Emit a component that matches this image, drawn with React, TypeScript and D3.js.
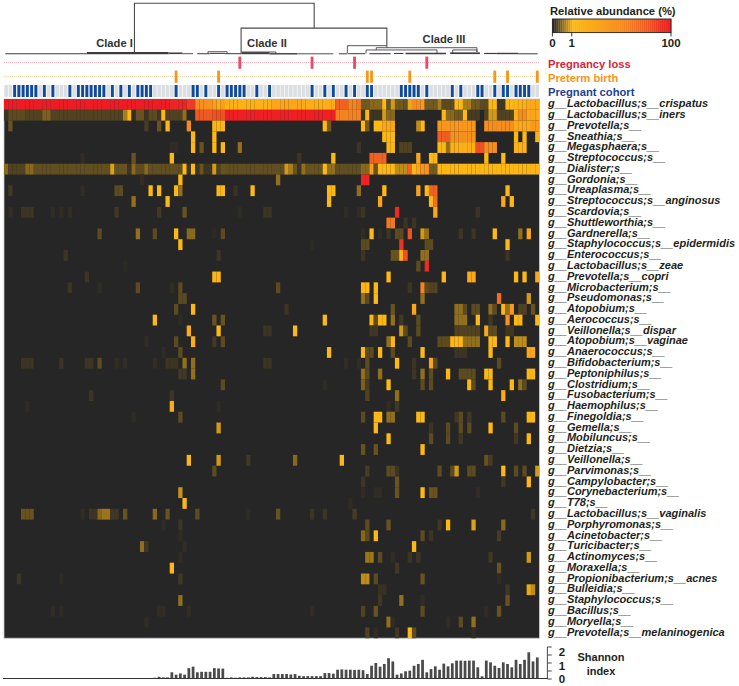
import React from "react";
import * as d3 from "d3";

type Run = number[]; // [col, value] or [firstCol, lastCol, value]

const taxa = [
  ["g__Lactobacillus;s__crispatus"], ["g__Lactobacillus;s__iners"], ["g__Prevotella;s__"], ["g__Sneathia;s__"],
  ["g__Megasphaera;s__"], ["g__Streptococcus;s__"], ["g__Dialister;s__"], ["g__Gordonia;s__"], ["g__Ureaplasma;s__"],
  ["g__Streptococcus;s__anginosus"], ["g__Scardovia;s__"], ["g__Shuttleworthia;s__"], ["g__Gardnerella;s__"],
  ["g__Staphylococcus;s__epidermidis"], ["g__Enterococcus;s__"], ["g__Lactobacillus;s__zeae"], ["g__Prevotella;s__copri"],
  ["g__Microbacterium;s__"], ["g__Pseudomonas;s__"], ["g__Atopobium;s__"], ["g__Aerococcus;s__"], ["g__Veillonella;s__dispar"],
  ["g__Atopobium;s__vaginae"], ["g__Anaerococcus;s__"], ["g__Bifidobacterium;s__"], ["g__Peptoniphilus;s__"], ["g__Clostridium;s__"],
  ["g__Fusobacterium;s__"], ["g__Haemophilus;s__"], ["g__Finegoldia;s__"], ["g__Gemella;s__"], ["g__Mobiluncus;s__"], ["g__Dietzia;s__"],
  ["g__Veillonella;s__"], ["g__Parvimonas;s__"], ["g__Campylobacter;s__"], ["g__Corynebacterium;s__"], ["g__T78;s__"],
  ["g__Lactobacillus;s__vaginalis"], ["g__Porphyromonas;s__"], ["g__Acinetobacter;s__"], ["g__Turicibacter;s__"], ["g__Actinomyces;s__"],
  ["g__Moraxella;s__"], ["g__Propionibacterium;s__acnes"], ["g__Bulleidia;s__"], ["g__Staphylococcus;s__"], ["g__Bacillus;s__"],
  ["g__Moryella;s__"], ["g__Prevotella;s__melaninogenica"],
].map((d) => d[0]);

const colCount = 126;

const crispatus: Run[] = [[0,38,100],[39,42,85],[43,44,50],[45,48,8],[49,49,4],[50,50,2],[51,51,4],[52,62,1.5],[63,69,3],[70,77,1.8],[78,80,25],[81,82,12],[83,83,15],[84,85,.35],[86,88,.45],[89,1],[90,.3],[91,.8],[92,93,.35],[94,.3],[95,.9],[96,97,10],[98,5],[99,101,.35],[102,.6],[103,105,.25],[106,107,1],[108,109,.6],[110,111,.35],[112,113,.25],[114,115,1],[116,117,.12],[118,119,1],[120,122,1.5],[123,125,2.5]];
const iners: Run[] = [[0,.1],[1,4,.25],[5,8,.2],[9,10,.4],[11,27,.2],[28,.6],[29,1],[30,.05],[31,32,.3],[33,.1],[34,35,.25],[36,.12],[37,1],[38,41,.2],[42,.5],[43,44,.03],[45,48,30],[49,51,35],[52,77,90],[78,83,12],[84,88,.1],[85,1],[89,.8],[90,91,.45],[103,1],[104,105,.45],[106,107,.35],[108,1],[109,111,.15],[113,.2],[114,115,.8],[116,119,.2],[120,1.5],[121,122,10],[123,125,3]];
const prevotella: Run[] = [[1,.3],[33,.15],[36,.3],[38,1],[43,10],[49,51,1.2],[75,1],[76,.35],[84,1],[85,.35],[87,88,1],[89,91,3],[97,.7],[98,1],[102,110,6],[113,119,9],[120,123,2.5],[124,125,5]];
const sneathia: Run[] = [[44,1],[49,1],[89,91,1],[102,104,28],[105,110,8],[120,1],[122,1],[125,1.5]];
const megasphaera: Run[] = [[39,40,.05],[44,1],[46,.3],[49,1],[51,1],[55,.5],[83,.1],[90,91,1],[93,95,.2],[102,103,1],[104,.5],[105,110,1.6],[111,112,35],[113,115,9],[120,122,1.5]];
const streptococcus: Run[] = [[18,.05],[30,.3],[39,1],[69,.1],[77,1],[86,89,25],[97,3],[100,101,1],[113,1],[117,1]];
const dialister: Run[] = [[0,.45],[1,4,.2],[5,6,.45],[7,24,.28],[25,.85],[26,28,.3],[29,.1],[30,.45],[31,32,.25],[33,.45],[34,41,.28],[42,1],[43,.1],[44,1],[45,.1],[46,.3],[47,48,.1],[49,.8],[50,.2],[51,.3],[52,65,.28],[66,.8],[67,.6],[68,.3],[69,.1],[70,.5],[71,74,.3],[75,1],[76,77,.5],[78,83,.28],[84,85,.45],[86,4],[87,.3],[88,91,1],[92,94,.7],[95,25],[96,1],[97,3],[98,99,7],[100,101,.35],[102,125,1.1]];
const gordonia: Run[] = [[32,.05],[41,1],[64,.5],[84,85,80]];
const ureaplasma: Run[] = [[1,.12],[18,.05],[26,27,.25],[34,1],[36,1],[40,1],[41,.5],[50,51,1],[54,.08],[58,1],[76,77,1],[83,.5],[89,1],[97,3],[99,1],[100,101,25],[118,1]];
const anginosus: Run[] = [[30,.5],[38,1],[76,1],[88,3],[100,1],[101,20],[117,3],[119,1]];
const scardovia: Run[] = [[1,.05],[4,6,.1],[11,.04],[13,.05],[15,.05],[26,.12],[36,.12],[42,.3],[55,.04],[61,62,.1],[80,.04],[83,.04],[84,.1],[92,70],[101,3],[111,.1]];
const shuttleworthia: Run[] = [[90,91,15],[94,.1],[96,.1]];
const gardnerella: Run[] = [[22,.25],[31,.5],[35,.25],[40,1],[43,44,.45],[49,.03],[51,.25],[84,.05],[86,1],[88,.05],[90,.1],[92,93,.25],[95,35],[98,.8],[99,.5],[107,.1],[110,.1],[115,1],[121,.5],[123,3]];
const epidermidis: Run[] = [[41,1],[72,.03],[84,85,.25],[93,60],[99,100,.25],[118,1]];
const enterococcus: Run[] = [[14,.1],[50,.1],[84,.1],[91,92,.3],[93,1.5],[94,35],[98,99,.5],[118,.1]];
const zeae: Run[] = [[28,.03],[97,.25],[99,70]];
const copri: Run[] = [[19,.1],[49,50,1.3],[90,1],[103,1],[109,110,2.5],[120,1],[122,1],[125,3]];
const microbacterium: Run[] = [[15,.1],[22,.04],[31,.25],[39,.05],[41,.25],[64,.25],[84,85,1.2],[87,1],[95,.1],[98,12],[99,.25],[100,101,.2]];
const pseudomonas: Run[] = [[41,42,.25],[84,.5],[85,.25],[87,1],[98,.5],[116,20],[123,.8]];
const atopobium: Run[] = [[40,.25],[44,1],[66,.1],[91,.3],[96,3],[106,107,.5],[108,.25],[110,111,.25],[114,.5],[115,.25],[117,1],[118,.5],[119,5],[121,122,.2],[124,.3]];
const aerococcus: Run[] = [[35,1],[41,.04],[49,.3],[51,.3],[75,1],[86,1],[87,.25],[88,89,1.1],[91,.5],[93,.12],[97,.25],[106,108,.5],[111,1],[114,.12],[118,8],[120,121,1.1],[125,1]];
const dispar: Run[] = [[43,2],[50,1],[61,62,.1],[68,1],[86,87,.12],[93,.8],[94,.25],[97,.25],[106,111,.2],[113,3],[114,115,.25],[118,119,.12]];
const vaginae: Run[] = [[33,.04],[40,.25],[44,2],[49,.12],[51,.25],[90,.5],[91,1],[95,.25],[102,104,.25],[105,107,1.1],[108,111,.5],[114,115,1],[118,1],[120,122,.7]];
const anaerococcus: Run[] = [[37,.04],[41,.25],[76,1],[84,1],[85,86,.25],[88,1],[91,.25],[98,1],[106,108,.1],[114,1],[123,124,3]];
const bifidobacterium: Run[] = [[4,6,.1],[13,.1],[19,20,.1],[22,.25],[26,.05],[28,.05],[35,.05],[38,40,.1],[42,.5],[44,.5],[61,62,.1],[80,.05],[83,.05],[85,.25],[92,1],[96,.1],[100,3],[101,.25],[116,.25]];
const peptoniphilus: Run[] = [[41,42,.12],[44,.5],[84,.5],[85,.25],[88,.5],[96,.1],[98,.5],[100,.25],[104,1],[107,110,.25],[113,114,1.1],[123,124,1.1]];
const clostridium: Run[] = [[51,.25],[75,.04],[84,.4],[85,.15],[90,1],[98,.25],[100,.25],[109,1],[110,.25],[114,1],[119,1],[121,.5],[122,.25]];
const fusobacterium: Run[] = [[20,.1],[39,.1],[85,.2],[92,.5],[117,2]];
const haemophilus: Run[] = [[5,.04],[39,2],[50,.04],[90,.05],[92,.12]];
const finegoldia: Run[] = [[30,.04],[41,.25],[84,.25],[87,88,1],[90,91,.5],[97,98,1],[106,.12],[107,.25],[109,.12],[117,.25],[123,124,1.1]];
const gemella: Run[] = [[50,.8],[87,1],[100,.1],[104,.25],[107,.25],[109,.25],[114,1],[120,.25]];
const mobiluncus: Run[] = [[90,1],[100,.25],[104,.25],[107,.12],[120,.12],[123,1]];
const dietzia: Run[] = [[84,.3],[87,.3],[98,1]];
const veillonella: Run[] = [[43,1],[50,.8],[57,.12],[68,.45],[79,1],[113,.3],[114,.15]];
const parvimonas: Run[] = [[49,.25],[85,.15],[90,91,.25],[92,.1],[102,.25],[105,.25],[106,.8],[109,110,.25],[117,1],[120,.25],[122,.25],[125,.8]];
const campylobacter: Run[] = [[84,.1],[92,.3],[117,.12],[123,1]];
const corynebacterium: Run[] = [[41,.75],[84,.05],[87,88,.05],[92,.3],[98,1],[100,101,.3],[111,.05]];
const t78: Run[] = [[42,1],[81,.04]];
const vaginalis: Run[] = [[4,6,.3],[18,.05],[20,21,.1],[22,.45],[23,24,.55],[25,26,.12],[28,.3],[35,.45],[38,.3],[45,.25],[57,.04],[64,.3],[72,.1],[75,.1],[82,.15],[124,.12]];
const porphyromonas: Run[] = [[37,.04],[41,.1],[85,.25],[90,.3],[102,.12],[104,1],[110,.85],[117,.45]];
const acinetobacter: Run[] = [[41,.04],[84,.45],[85,.25],[87,1],[98,.25],[100,.1],[116,.15]];
const turicibacter: Run[] = [[32,.5],[33,.12],[42,.05],[96,1]];
const actinomyces: Run[] = [[41,.05],[85,86,.55],[88,.25],[91,.05],[95,.1],[97,.1],[114,.12],[123,.8]];
const moraxella: Run[] = [[39,1],[92,.12],[116,.3]];
const acnes: Run[] = [[3,.1],[13,.04],[41,.12],[84,85,.7],[87,.25],[98,.3],[116,.05]];
const bulleidia: Run[] = [[88,89,.08],[118,.12],[123,.9],[124,.7]];
const staphylococcus: Run[] = [[41,.5],[88,.12],[93,.5],[98,.05],[118,.3]];
const bacillus: Run[] = [[11,.04],[13,.04],[36,37,.05],[43,.05],[72,.05],[84,.2],[87,.3],[98,.25],[113,.05],[116,.3]];
const moryella: Run[] = [[33,.04],[90,.5],[91,.05],[104,.05],[107,.25],[110,.5]];
const melaninogenica: Run[] = [[85,.2],[87,.05],[92,.12],[95,1],[96,.25],[110,.05]];

const abundanceRows = [crispatus, iners, prevotella, sneathia, megasphaera, streptococcus, dialister, gordonia, ureaplasma, anginosus, scardovia, shuttleworthia, gardnerella, epidermidis, enterococcus, zeae, copri, microbacterium, pseudomonas, atopobium, aerococcus, dispar, vaginae, anaerococcus, bifidobacterium, peptoniphilus, clostridium, fusobacterium, haemophilus, finegoldia, gemella, mobiluncus, dietzia, veillonella, parvimonas, campylobacter, corynebacterium, t78, vaginalis, porphyromonas, acinetobacter, turicibacter, actinomyces, moraxella, acnes, bulleidia, staphylococcus, bacillus, moryella, melaninogenica];

const pregnantCohort = [2,3,4,5,6,7,9,11,15,17,18,19,20,21,22,23,25,27,29,31,32,33,34,40,44,45,47,50,52,53,54,55,56,59,62,72,75,77,80,82,85,86,93,94,95,96,97,99,105,107,111,112,115,117,118,120,121,122,123];
const pretermBirth = [40,50,85,86,95,115,118,125];
const pregnancyLoss = [55,72,82,99];

const shannonIndex = [0,0,0,0,0,0,0,0,0,0,0,0,0,0,0,0,0,0,0,0,0,0,.03,.03,0,.05,.05,.05,.05,.01,.06,.06,.06,.02,.06,.08,.14,.1,.1,.42,.27,.35,.27,.68,.77,.42,.45,.45,.45,.68,.66,.65,.08,.1,.08,.1,.1,.1,.14,.12,.12,.12,.1,.31,.31,.31,.31,.28,.31,.2,.18,.18,.18,.18,.18,.37,.37,.33,.58,.6,.58,.58,.57,.58,.55,.31,.83,1,.77,.94,1.3,1.1,.27,.35,.48,.52,.83,.94,1.2,.42,.62,.79,.58,.96,.79,.98,1.15,1.15,1.14,1.15,1.15,.73,.17,1.15,1.04,.83,.69,1.04,.94,.73,1.2,.94,1.2,1.67,1.1,1.35];
const shannonTicks = [0,.5,1,1.5,2];
const shannonLabels = [0,1,2];

// [left col, right col, height, left foot height, right foot height]
const dendroLinks = [
  [30.7,73,100,4,51],
  [55.8,90.1,51,4,16.4],
  [80.8,90.1,16.4,1,12.4],
  [87.6,111.3,12.4,8,4],
  [85.2,101.9,8,1,1],
  [105.6,111.3,8,2,4],
  [48,52.5,4.5,1,1],
  [55.8,64,4,1,1],
];
// [first col, last col, height, weight]
const dendroBase = [
  [.3,19.5,.4,1.1],[19.5,38.7,1.6,2.2],[38.7,42,1.4,1.6],[42,44.5,.6,.9],[45.5,48.4,.5,1],[48.4,52,1.2,1],[52,56,.6,1],[56,62.5,1.6,2],[62.5,69,.4,1.4],[69,77.5,.4,.9],[78.8,80.8,.4,1],
  [81,85,.6,1],[86,91,.6,1.1],[91.8,94,1,1],[94.5,104,1,1.5],[105,112,1.5,1.7],[113,116,1,1.2],[116,121,1,1.4],[121,125.6,.4,1],
];
const cladeLabels = [["Clade I", 114.5, 43], ["Clade II", 267, 43], ["Clade III", 444, 38.5]];
const legendTicks = [0, 1, 100];
const sideLabels = [["Pregnancy loss", "#d9243c", 63.5], ["Preterm birth", "#f7941d", 77.5], ["Pregnant cohort", "#1c3f94", 91.5]];

const margin = { left: 4, right: 539.4, top: 99, bottom: 638.2 };

const xCol = d3.scaleLinear().domain([0, colCount]).range([margin.left, margin.right]);
const cw = xCol(1) - xCol(0);
const yRow = d3.scaleLinear().domain([0, taxa.length]).range([margin.top, margin.bottom]);
const rh = yRow(1) - yRow(0);
const yDendro = d3.scaleLinear().domain([0, 100]).range([54, 3.3]);
const yShannon = d3.scaleLinear().domain([0, 2]).range([679, 647]);
const yShannonLabel = d3.scaleLinear().domain([0, 2]).range([679, 652]);

// legend position 0..1 for an abundance
const legendPos = (v: number) => (v <= 1 ? 0.163 * v : 0.163 + 0.837 * (Math.log10(v) / 2));
const colorAt = d3
  .scaleLinear<string>()
  .domain([0, 0.163, 0.36, 0.58, 0.78, 0.91, 1])
  .range(["#262626", "#fdb813", "#fba61a", "#f68b1f", "#ef5a22", "#ec3124", "#ed1c24"])
  .clamp(true);
const xLegend = d3.scaleLinear().domain([0, 1]).range([552.4, 671]);

function expand(runs: Run[]) {
  const out = new Array(colCount).fill(0);
  runs.forEach((r) => {
    const [a, b, v] = r.length === 2 ? [r[0], r[0], r[1]] : r;
    for (let c = a; c <= b; c++) out[c] = v;
  });
  return out as number[];
}

const FONT = "'Liberation Sans', Arial, sans-serif";
const INK = "#231f20";

export default function App() {
  const legendSteps = d3.range(0, 1, 1 / 60);
  return (
    <svg width={739} height={686} viewBox="0 0 739 686" style={{ position: "absolute", left: 0, top: 0, display: "block", fontFamily: FONT }}>
      {/* dendrogram */}
      <g fill="none" stroke="#555" strokeWidth={1}>
        {dendroLinks.map(([l, r, h, lf, rf], i) => (
          <path key={i} d={`M${xCol(l)},${yDendro(lf)}V${yDendro(h)}H${xCol(r)}V${yDendro(rf)}`} stroke={i < 2 ? "#4a4a4a" : "#444"} strokeWidth={i < 2 ? 1.1 : 0.9} />
        ))}
        {dendroBase.map(([a, b, h, w], i) => (
          <line key={i} x1={xCol(a)} x2={xCol(b)} y1={yDendro(h)} y2={yDendro(h)} stroke="#3c3c3c" strokeWidth={w} />
        ))}
      </g>
      {cladeLabels.map(([t, x, y]) => (
        <text key={t as string} x={x as number} y={y as number} dominantBaseline="central" textAnchor="middle" fontSize={11.2} fontWeight={700} fill="#333">{t}</text>
      ))}

      {/* annotation tracks */}
      <line x1={xCol(0)} x2={xCol(colCount)} y1={62.5} y2={62.5} stroke="#f59aa8" strokeWidth={0.8} strokeDasharray="1 1" />
      <line x1={xCol(0)} x2={xCol(colCount)} y1={76.5} y2={76.5} stroke="#fbd08f" strokeWidth={0.8} strokeDasharray="1 1" />
      {pregnancyLoss.map((c) => (
        <rect key={c} x={xCol(c) + 0.7} y={56.6} width={cw - 1.4} height={12.2} fill="#ee4a62" />
      ))}
      {pretermBirth.map((c) => (
        <rect key={c} x={xCol(c) + 0.7} y={70.6} width={cw - 1.4} height={12.2} fill="#f5971d" />
      ))}
      {d3.range(colCount).map((c) => (
        <rect key={c} x={xCol(c) + 0.3} y={85} width={cw - 0.6} height={12} fill="#dcdfe2" />
      ))}
      {pregnantCohort.map((c) => (
        <rect key={c} x={xCol(c) + 0.7} y={85} width={cw - 1.4} height={12} fill="#0f4a9c" />
      ))}
      {sideLabels.map(([t, col, y]) => (
        <text key={t as string} x={548} y={y as number} dominantBaseline="central" fontSize={11.2} fontWeight={700} fill={col as string}>{t}</text>
      ))}

      {/* heatmap */}
      <rect x={margin.left} y={margin.top} width={margin.right - margin.left} height={margin.bottom - margin.top} fill="#262626" stroke="#c8c8c8" strokeWidth={0.8} />
      {abundanceRows.map((runs, r) =>
        expand(runs).map((v, c) =>
          v > 0 ? <rect key={`${r}-${c}`} x={xCol(c)} y={yRow(r)} width={cw + 0.05} height={rh + 0.05} fill={colorAt(legendPos(v))} /> : null
        )
      )}
      {taxa.map((t, r) => (
        <text key={t} x={548} y={yRow(r) + rh / 2 - 1.2} dominantBaseline="central" fontSize={11} fontWeight={700} fontStyle="italic" fill={INK}>{t}</text>
      ))}

      {/* legend */}
      <text x={550} y={11} dominantBaseline="central" fontSize={11.2} fontWeight={700} fill={INK}>Relative abundance (%)</text>
      {legendSteps.map((p) => (
        <rect key={p} x={xLegend(p)} y={19} width={xLegend(1 / 60) - xLegend(0) + 0.3} height={13.6} fill={colorAt(p)} />
      ))}
      <rect x={xLegend(0)} y={19} width={xLegend(1) - xLegend(0)} height={13.6} fill="none" stroke="#222" strokeWidth={0.9} />
      {legendTicks.map((t) => (
        <g key={t}>
          <line x1={xLegend(legendPos(t))} x2={xLegend(legendPos(t))} y1={32.6} y2={36.5} stroke="#222" strokeWidth={0.9} />
          <text x={xLegend(legendPos(t))} y={43} dominantBaseline="central" textAnchor="middle" fontSize={11.5} fontWeight={700} fill={INK}>{t}</text>
        </g>
      ))}

      {/* Shannon */}
      {shannonIndex.map((v, c) => (
        <rect key={c} x={xCol(c) + 0.75} y={yShannon(v)} width={cw - 1.5} height={yShannon(0) - yShannon(v)} fill="#4a4a4a" />
      ))}
      <line x1={3} x2={547.6} y1={yShannon(0) - 0.5} y2={yShannon(0) - 0.5} stroke="#333" strokeWidth={1} />
      <line x1={547.4} x2={547.4} y1={yShannon(2)} y2={yShannon(0)} stroke="#333" strokeWidth={0.9} />
      {shannonTicks.map((t) => (
        <line key={t} x1={547.4} x2={551.7} y1={yShannon(t)} y2={yShannon(t)} stroke="#333" strokeWidth={0.9} />
      ))}
      {shannonLabels.map((t) => (
        <text key={t} x={562} y={yShannonLabel(t)} dominantBaseline="central" textAnchor="middle" fontSize={11.5} fontWeight={700} fill={INK}>{t}</text>
      ))}
      <text x={601} y={657} dominantBaseline="central" textAnchor="middle" fontSize={11} fontWeight={700} fill={INK}>Shannon</text>
      <text x={601} y={670.5} dominantBaseline="central" textAnchor="middle" fontSize={11} fontWeight={700} fill={INK}>index</text>
    </svg>
  );
}
